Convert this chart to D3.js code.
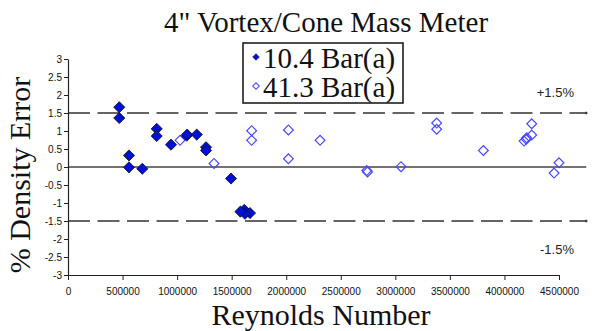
<!DOCTYPE html>
<html>
<head>
<meta charset="utf-8">
<script src="https://cdn.jsdelivr.net/npm/d3@7"></script>
<style>
  body { margin: 0; background: #fff; }
  svg { display: block; }
</style>
</head>
<body>
<svg width="609" height="331"></svg>
<script>
// data
var seriesNames = ["10.4 Bar(a)", "41.3 Bar(a)"];

var re104 = [470000, 470000, 559000, 559000, 681000, 813000, 813000, 944000,
             1088000, 1092000, 1180000, 1265000, 1265000, 1494000,
             1616000, 1668000, 1622000, 1580000];
var err104 = [1.66, 1.36, 0.32, -0.01, -0.05, 1.06, 0.86, 0.62,
              0.87, 0.90, 0.90, 0.55, 0.46, -0.32,
              -1.19, -1.28, -1.30, -1.24];

var re413 = [1027000, 1338000, 1683000, 1683000, 2020000, 2020000, 2310000,
             2738000, 2745000, 3052000, 3379000, 3379000, 3807000,
             4250000, 4250000, 4204000, 4180000, 4200000, 4455000, 4500000];
var err413 = [0.74, 0.10, 1.01, 0.74, 1.03, 0.23, 0.74,
              -0.10, -0.14, 0.01, 1.22, 1.05, 0.46,
              1.20, 0.89, 0.81, 0.72, 0.77, -0.17, 0.12];

var limitLevels = [1.5, -1.5];
var limitLabels = ["+1.5%", "-1.5%"];
var lineRange = [0, 4750000];

var xTicks = [0, 500000, 1000000, 1500000, 2000000, 2500000, 3000000, 3500000, 4000000, 4500000];
var yTicks = [3, 2.5, 2, 1.5, 1, 0.5, 0, -0.5, -1, -1.5, -2, -2.5, -3];

var svg = d3.select("svg");
var serif = "'Liberation Serif', 'Times New Roman', serif";
var sans = "'Liberation Sans', Arial, sans-serif";

var x = d3.scaleLinear().domain([0, 4500000]).range([68, 559]);
var y = d3.scaleLinear().domain([-3, 3]).range([275, 59]);

// reference lines
svg.selectAll(".limit")
   .data(limitLevels)
   .enter().append("line")
   .attr("x1", x(lineRange[0])).attr("x2", x(lineRange[1]))
   .attr("y1", d => y(d)).attr("y2", d => y(d))
   .attr("stroke", "#333").attr("stroke-width", 1.4)
   .attr("stroke-dasharray", "22,7.5");

svg.selectAll(".limitEnd")
   .data(limitLevels)
   .enter().append("rect")
   .attr("x", x(lineRange[1]) - 1).attr("y", d => y(d) - 1.2)
   .attr("width", 2).attr("height", 2.4).attr("fill", "#333");

svg.append("line")
   .attr("x1", x(lineRange[0])).attr("x2", x(lineRange[1]))
   .attr("y1", y(0)).attr("y2", y(0))
   .attr("stroke", "#444").attr("stroke-width", 1.4);

svg.selectAll(".limitLabel")
   .data(limitLevels)
   .enter().append("text")
   .attr("x", 574)
   .attr("y", d => d > 0 ? y(d) - 16 : y(d) + 33)
   .attr("text-anchor", "end")
   .attr("font-family", sans).attr("font-size", 13)
   .attr("fill", "#222")
   .text((d, i) => limitLabels[i]);

// axes
var xAxis = d3.axisBottom(x).tickValues(xTicks).tickSize(5).tickSizeOuter(0)
              .tickFormat(d3.format("d"));
var yAxis = d3.axisLeft(y).tickValues(yTicks).tickSize(4).tickSizeOuter(0)
              .tickFormat(d => d);

var gx = svg.append("g").attr("transform", "translate(0," + y(-3) + ")").call(xAxis);
var gy = svg.append("g").attr("transform", "translate(" + x(0) + ",0)").call(yAxis);

[gx, gy].forEach(function(g) {
  g.select(".domain").attr("stroke", "#222").attr("stroke-width", 1.2);
  g.selectAll(".tick line").attr("stroke", "#222");
  g.selectAll("text").attr("font-family", sans).attr("font-size", 10).attr("fill", "#111");
});
gx.selectAll("text").attr("dy", "1.2em");
gy.selectAll("text").attr("x", -6);

// points
var sym = d3.symbol().type(d3.symbolSquare);

svg.append("g").selectAll("path")
   .data(re413.map((r, i) => [r, err413[i]]))
   .enter().append("path")
   .attr("d", sym.size(48)())
   .attr("transform", d => "translate(" + x(d[0]) + "," + y(d[1]) + ") rotate(45)")
   .attr("fill", "none").attr("stroke", "#4848ff").attr("stroke-width", 1.2);

svg.append("g").selectAll("path")
   .data(re104.map((r, i) => [r, err104[i]]))
   .enter().append("path")
   .attr("d", sym.size(62)())
   .attr("transform", d => "translate(" + x(d[0]) + "," + y(d[1]) + ") rotate(45)")
   .attr("fill", "#0010d8").attr("stroke", "#111").attr("stroke-width", 0.8);

// titles
svg.append("text")
   .attr("x", 326).attr("y", 32)
   .attr("text-anchor", "middle")
   .attr("font-family", serif).attr("font-size", 29)
   .attr("fill", "#111")
   .text("4\" Vortex/Cone Mass Meter");

svg.append("text")
   .attr("x", 321).attr("y", 325)
   .attr("text-anchor", "middle")
   .attr("font-family", serif).attr("font-size", 30)
   .attr("fill", "#111")
   .text("Reynolds Number");

svg.append("text")
   .attr("transform", "translate(30,175) rotate(-90)")
   .attr("text-anchor", "middle")
   .attr("font-family", serif).attr("font-size", 30)
   .attr("fill", "#111")
   .text("% Density Error");

// legend
var legend = svg.append("g");
legend.append("rect")
   .attr("x", 243).attr("y", 43).attr("width", 160).attr("height", 60)
   .attr("fill", "#fff").attr("stroke", "#111").attr("stroke-width", 1.5);

var legY = [57, 86];
legend.append("path")
   .attr("d", d3.symbol().type(d3.symbolSquare).size(22)())
   .attr("transform", "translate(256," + legY[0] + ") rotate(45)")
   .attr("fill", "#0010d8").attr("stroke", "#111").attr("stroke-width", 0.6);
legend.append("path")
   .attr("d", d3.symbol().type(d3.symbolSquare).size(22)())
   .attr("transform", "translate(256," + legY[1] + ") rotate(45)")
   .attr("fill", "none").attr("stroke", "#4848ff").attr("stroke-width", 1);

legend.selectAll("text")
   .data(seriesNames)
   .enter().append("text")
   .attr("x", 263)
   .attr("y", (d, i) => legY[i] + 11)
   .attr("font-family", serif).attr("font-size", 29)
   .attr("fill", "#111")
   .text(d => d);
</script>
</body>
</html>
